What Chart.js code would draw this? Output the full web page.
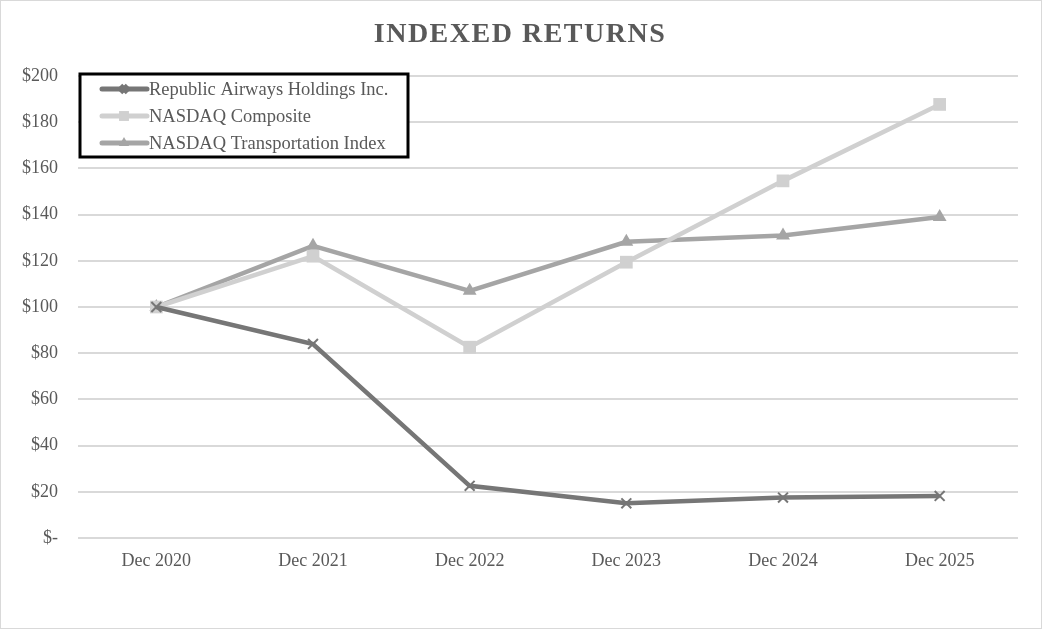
<!DOCTYPE html>
<html>
<head>
<meta charset="utf-8">
<script src="https://cdn.jsdelivr.net/npm/chart.js@4.4.1/dist/chart.umd.min.js"></script>
<style>
  html, body { margin: 0; padding: 0; background: #fff; }
  #wrap { position: relative; width: 1040px; height: 627px; border: 1px solid #d9d9d9; }
</style>
</head>
<body>
<div id="wrap"><canvas id="myChart"></canvas></div>
<script>
const years = ['Dec 2020', 'Dec 2021', 'Dec 2022', 'Dec 2023', 'Dec 2024', 'Dec 2025'];
const republic = [100, 84, 22.6, 15, 17.5, 18.2];
const nasdaqComposite = [100, 122, 82.6, 119.4, 154.6, 187.7];
const nasdaqTransport = [100, 126.5, 107, 128.2, 131, 139];
const chartTitle = 'INDEXED RETURNS';
const fontFamily = '"Liberation Serif", "Times New Roman", serif';

// legend + title drawn on the canvas, boxed like the original
const boxLegend = {
  id: 'boxLegend',
  afterDraw(chart) {
    const ctx = chart.ctx;
    ctx.save();
    ctx.fillStyle = '#595959';
    ctx.font = 'bold 28px ' + fontFamily;
    ctx.letterSpacing = '1.5px';
    ctx.textAlign = 'center';
    ctx.textBaseline = 'middle';
    ctx.fillText(chartTitle, 519, 34);
    ctx.letterSpacing = '0px';

    const x = 79, y = 73, w = 328, h = 83;
    ctx.fillStyle = '#fff';
    ctx.fillRect(x, y, w, h);
    ctx.strokeStyle = '#000';
    ctx.lineWidth = 3;
    ctx.strokeRect(x, y, w, h);

    chart.data.datasets.forEach((ds, i) => {
      const ly = 88 + i * 27;
      ctx.strokeStyle = ds.borderColor;
      ctx.fillStyle = ds.borderColor;
      ctx.lineWidth = 5;
      ctx.lineCap = 'round';
      ctx.beginPath();
      ctx.moveTo(101, ly);
      ctx.lineTo(146, ly);
      ctx.stroke();
      ctx.lineCap = 'butt';
      Chart.helpers.drawPoint(ctx, {
        pointStyle: ds.pointStyle,
        radius: ds.pointRadius - 2,
        borderWidth: ds.pointStyle === 'crossRot' ? 1.5 : 0
      }, 123, ly);
      ctx.fillStyle = '#595959';
      ctx.font = '18.5px ' + fontFamily;
      ctx.textAlign = 'left';
      ctx.fillText(ds.label, 148, ly + 1);
    });
    ctx.restore();
  }
};

const chartLayout = document.getElementById('myChart');
const myChart = new Chart(chartLayout, {
  type: 'line',
  data: {
    labels: years,
    datasets: [
      {
        label: 'Republic Airways Holdings Inc.',
        data: republic,
        borderColor: '#767676',
        backgroundColor: '#767676',
        borderWidth: 4.5,
        pointStyle: 'crossRot',
        pointRadius: 7,
        pointBorderWidth: 2
      },
      {
        label: 'NASDAQ Composite',
        data: nasdaqComposite,
        borderColor: '#d0d0d0',
        backgroundColor: '#d0d0d0',
        borderWidth: 4.5,
        pointStyle: 'rect',
        pointRadius: 9,
        pointBorderWidth: 0
      },
      {
        label: 'NASDAQ Transportation Index',
        data: nasdaqTransport,
        borderColor: '#a5a5a5',
        backgroundColor: '#a5a5a5',
        borderWidth: 4.5,
        pointStyle: 'triangle',
        pointRadius: 8,
        pointBorderWidth: 0
      }
    ]
  },
  options: {
    responsive: true,
    maintainAspectRatio: false,
    animation: false,
    devicePixelRatio: 1,
    layout: {
      padding: { top: 75, right: 23, bottom: 0, left: 0 }
    },
    plugins: {
      legend: { display: false },
      title: { display: false },
      tooltip: { enabled: false }
    },
    scales: {
      x: {
        offset: true,
        grid: { display: false, drawTicks: false },
        border: { display: false },
        ticks: {
          color: '#595959',
          font: { family: fontFamily, size: 18 },
          padding: 12,
          maxRotation: 0
        },
        afterFit(scale) { scale.height = 90; }
      },
      y: {
        min: 0,
        max: 200,
        grid: { color: '#d9d9d9', lineWidth: 2, drawTicks: false },
        border: { display: false },
        ticks: {
          stepSize: 20,
          color: '#595959',
          font: { family: fontFamily, size: 18 },
          padding: 20,
          callback: (v) => v === 0 ? '$-' : '$' + v
        },
        afterFit(scale) { scale.width = 77; }
      }
    }
  },
  plugins: [boxLegend]
});
</script>
</body>
</html>
